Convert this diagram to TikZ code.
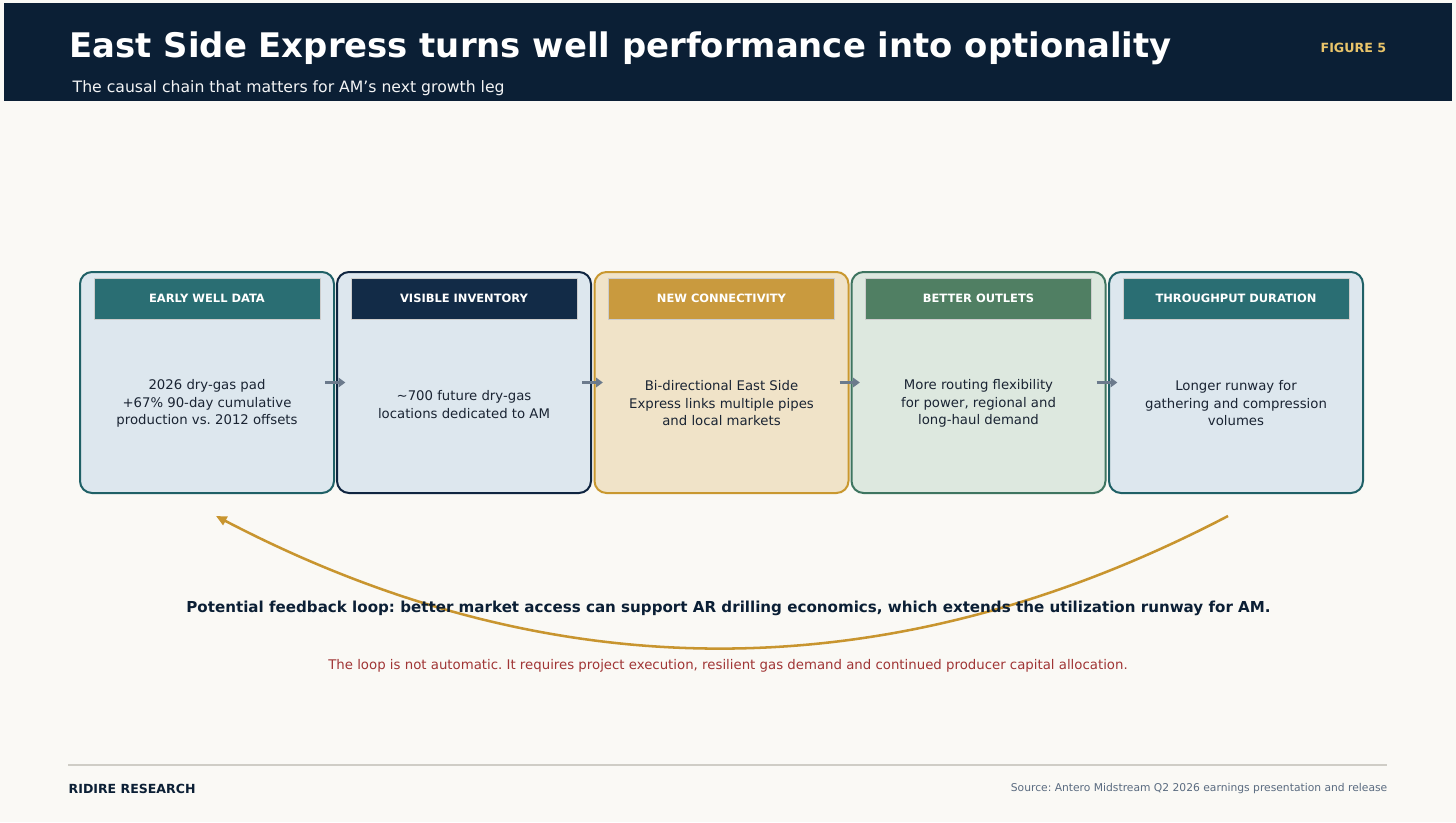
\documentclass[tikz,border=0pt]{standalone}
\usepackage{fontspec}
\setmainfont{DejaVu Sans}
\usetikzlibrary{arrows.meta}
\frenchspacing
\definecolor{bgc}{HTML}{FAF9F5}
\definecolor{navy}{HTML}{0B1F35}
\definecolor{gold}{HTML}{E9C46A}
\definecolor{tealb}{HTML}{1F6066}
\definecolor{tealh}{HTML}{2A6E73}
\definecolor{navyb}{HTML}{0F2540}
\definecolor{navyh}{HTML}{122B47}
\definecolor{goldb}{HTML}{C9982F}
\definecolor{goldh}{HTML}{C99A3E}
\definecolor{greenb}{HTML}{3E7560}
\definecolor{greenh}{HTML}{507F63}
\definecolor{bluef}{HTML}{DDE7EE}
\definecolor{sandf}{HTML}{F0E3C8}
\definecolor{greenf}{HTML}{DDE8DF}
\definecolor{bodytxt}{HTML}{1A2433}
\definecolor{arrowg}{HTML}{6B7A8C}
\definecolor{loopc}{HTML}{C8952F}
\definecolor{redt}{HTML}{A03535}
\definecolor{srct}{HTML}{5A6B80}
\definecolor{rulec}{HTML}{CFCDC6}
\tikzset{
  card/.style={draw, line width=1.5pt, rounded corners=9pt, minimum width=190.5pt, minimum height=165.75pt, inner sep=0pt},
  hbar/.style={draw=white!80!black, line width=0.4pt, minimum width=169.5pt, minimum height=30.75pt, inner sep=0pt, text=white, font=\bfseries\fontsize{8.6pt}{10pt}\selectfont},
  bodyt/.style={align=center, text=bodytxt, font=\fontsize{9.95pt}{13.1pt}\selectfont},
  flow/.style={draw=arrowg, line width=2.2pt, -{Triangle[length=5pt,width=7pt]}},
}
\begin{document}
\begin{tikzpicture}[x=0.75pt,y=-0.75pt]
\useasboundingbox (0,0) rectangle (1456,822);
\fill[bgc] (0,0) rectangle (1456,822);
\fill[navy] (4,3) rectangle (1452,101);
\node[anchor=west, text=white, font=\bfseries\fontsize{25.4pt}{29pt}\selectfont] (title) at (65,48) {East Side Express turns well performance into optionality};
\node[anchor=east, text=gold, font=\bfseries\fontsize{9.5pt}{12pt}\selectfont] (fig) at (1391,48) {FIGURE 5};
\node[anchor=west, text=white!95!navy, font=\fontsize{11.75pt}{14pt}\selectfont] (sub) at (68,88) {The causal chain that matters for AM’s next growth leg};

% cards
\node[card, draw=tealb, fill=bluef] (c1) at (207,382.5) {};
\node[card, draw=navyb, fill=bluef] (c2) at (464,382.5) {};
\node[card, draw=goldb, fill=sandf] (c3) at (721.5,382.5) {};
\node[card, draw=greenb, fill=greenf] (c4) at (978.5,382.5) {};
\node[card, draw=tealb, fill=bluef] (c5) at (1236,382.5) {};

\node[hbar, fill=tealh] (h1) at (207,298.5) {EARLY WELL DATA};
\node[hbar, fill=navyh] (h2) at (464,298.5) {VISIBLE INVENTORY};
\node[hbar, fill=goldh] (h3) at (721.5,298.5) {NEW CONNECTIVITY};
\node[hbar, fill=greenh] (h4) at (978.5,298.5) {BETTER OUTLETS};
\node[hbar, fill=tealh] (h5) at (1236,298.5) {THROUGHPUT DURATION};

\node[bodyt] (b1) at (207,403.5) {2026 dry-gas pad\\+67\% 90-day cumulative\\production vs. 2012 offsets};
\node[bodyt] (b2) at (464,404.5) {\textasciitilde700 future dry-gas\\locations dedicated to AM};
\node[bodyt] (b3) at (721.5,403.5) {Bi-directional East Side\\Express links multiple pipes\\and local markets};
\node[bodyt] (b4) at (978.5,403.5) {More routing flexibility\\for power, regional and\\long-haul demand};
\node[bodyt] (b5) at (1236,403.5) {Longer runway for\\gathering and compression\\volumes};

% flow arrows
\foreach \a/\b in {c1/c2,c2/c3,c3/c4,c4/c5}{
  \coordinate (\a s) at ([xshift=-7.5pt]\a.east);
  \coordinate (\b t) at ([xshift=7pt]\b.west);
  \draw[flow] (\a s) -- (\b t);
}

% feedback loop
\coordinate (ls) at (1228,516);
\coordinate (le) at (216,516);
\draw[loopc, line width=1.9pt, -{Triangle[length=8pt,width=7pt]}] (ls) .. controls (891,692) and (553,692) .. (le);

\node[text=navy, font=\bfseries\fontsize{11.33pt}{14pt}\selectfont] (fb) at (728.5,608.5) {Potential feedback loop: better market access can support AR drilling economics, which extends the utilization runway for AM.};
\node[text=redt, font=\fontsize{9.98pt}{12pt}\selectfont] (note) at (728,666) {The loop is not automatic. It requires project execution, resilient gas demand and continued producer capital allocation.};

% footer
\coordinate (rl) at (68,765);
\coordinate (rr) at (1387,765);
\draw[rulec, line width=1pt] (rl) -- (rr);
\node[anchor=west, text=navy, font=\bfseries\fontsize{9.4pt}{12pt}\selectfont] (brand) at (64,788.5) {RIDIRE RESEARCH};
\node[anchor=east, text=srct, font=\fontsize{8.05pt}{10pt}\selectfont] (src) at (1392,788.5) {Source: Antero Midstream Q2 2026 earnings presentation and release};
\end{tikzpicture}
\end{document}
